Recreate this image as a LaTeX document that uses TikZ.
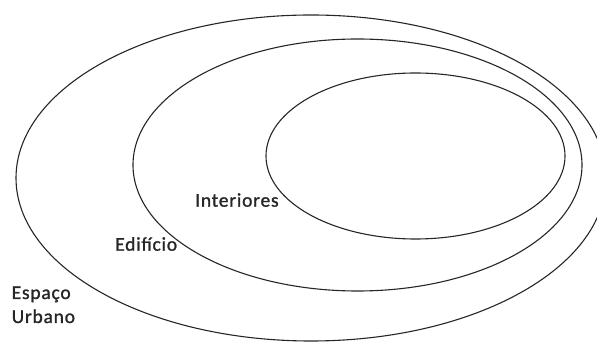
\documentclass[tikz,border=0pt]{standalone}
\usepackage{fontspec}
\setmainfont{Carlito}[LetterSpace=4,FakeBold=1.2]
\begin{document}
\begin{tikzpicture}[x=1pt,y=1pt,
  ring/.style={draw=black!85, line width=1.1pt},
  lbl/.style={font=\fontsize{19.5}{24}\selectfont, inner sep=0pt, anchor=base west, text=black!85}]
\useasboundingbox (0,0) rectangle (597,342);
\clip (0,0) rectangle (597,342);
\draw[ring] (311,164) ellipse [x radius=295, y radius=163];
\draw[ring] (357.5,177) ellipse [x radius=224.5, y radius=126];
\draw[ring] (415.5,186) ellipse [x radius=149.5, y radius=83];
\node[lbl] (int) at (195,135.3) {Interiores};
\node[lbl] (edi) at (115,91.3) {Edifício};
\node[lbl] (esp) at (11.5,43) {\vtop{\baselineskip=24pt\hbox{Espaço}\hbox{Urbano}}};
\end{tikzpicture}
\end{document}
